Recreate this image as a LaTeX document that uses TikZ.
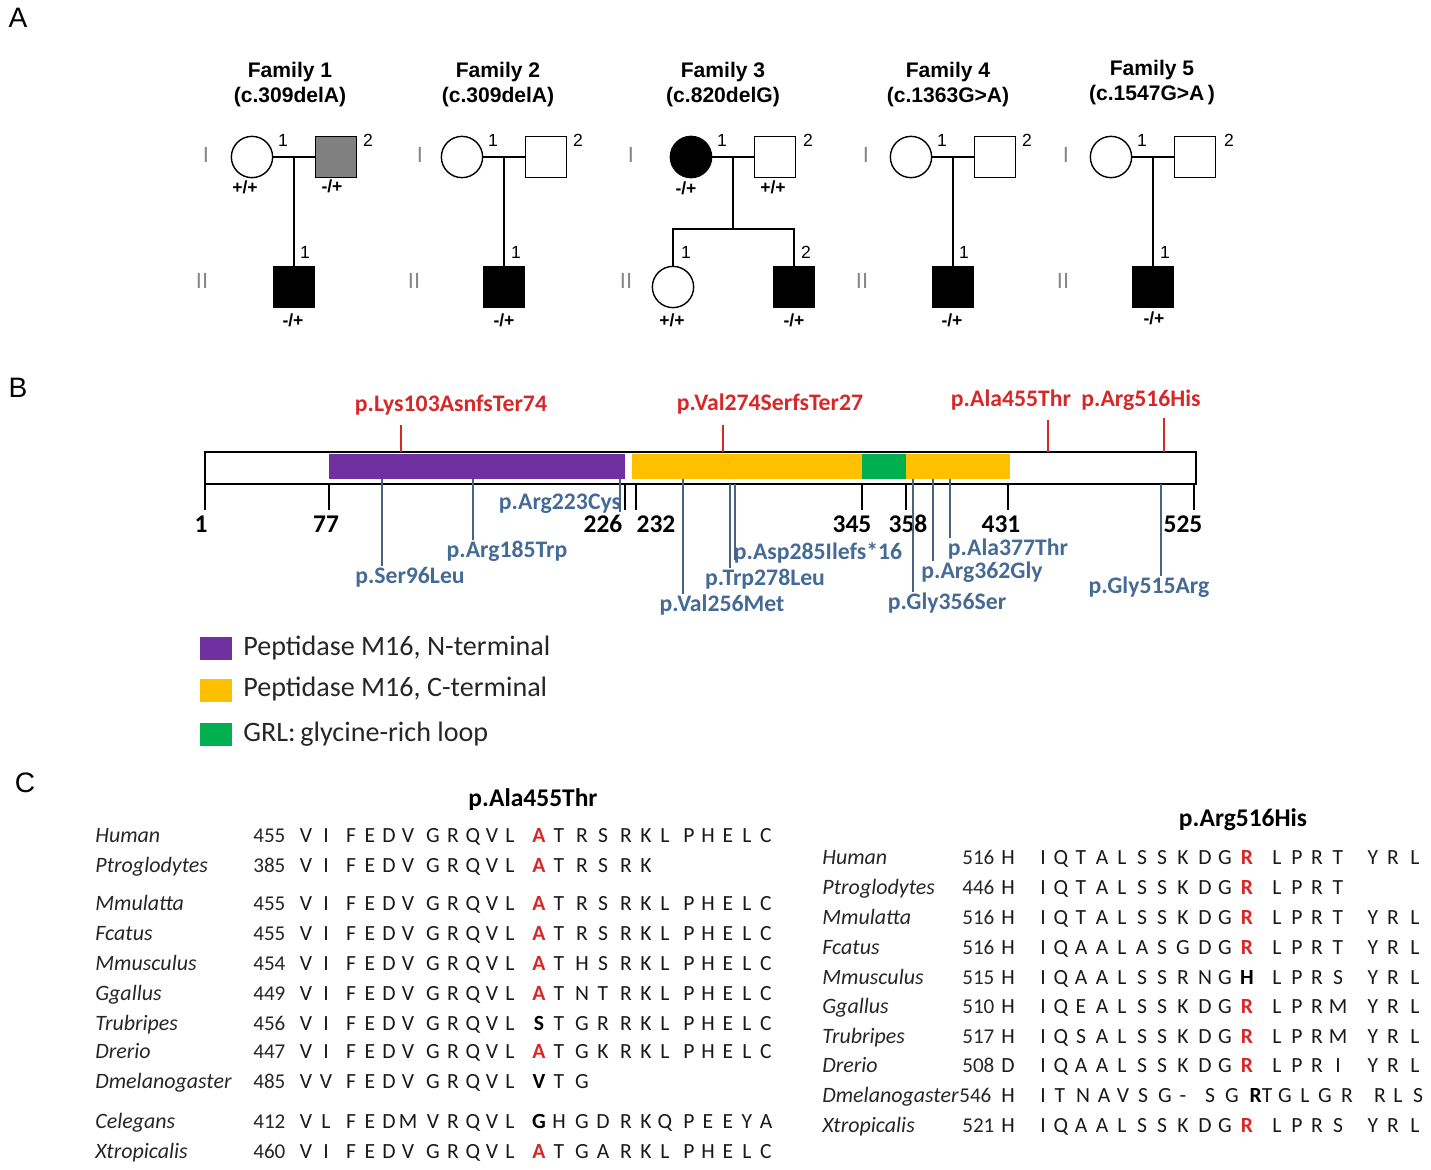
\documentclass[tikz,border=0pt]{standalone}
\usepackage{fontspec}
\setmainfont{Liberation Sans}
\newfontfamily\carl{Carlito}
\usetikzlibrary{calc}

\definecolor{purpM}{RGB}{112,48,160}
\definecolor{orM}{RGB}{255,192,0}
\definecolor{grM}{RGB}{0,176,80}
\definecolor{redM}{RGB}{214,40,40}
\definecolor{bluM}{RGB}{68,106,150}
\definecolor{lineB}{RGB}{70,100,130}
\definecolor{genG}{RGB}{135,135,135}

\newcommand{\mr}[1]{\textcolor{redM}{\bfseries #1}}
\newcommand{\mb}[1]{\textcolor{black}{\bfseries #1}}

% column positions of the alignments
\def\colL{{306,326,351,370,389,408,433,453,473,492,510,539,559,582,603,626,646,665,689,708,728,747,766}}
\def\colR{{1043,1061,1081,1102,1122,1142,1162,1183,1205,1225,1247,1277,1297,1317,1338,1373,1393,1415}}
\def\colD{{1043,1060,1083,1104,1123,1143,1165,1183,1210,1232,1261,1285,1305,1325,1347,1380,1398,1418}}

\newcommand{\seqrow}[4]{%
  \foreach \ch [count=\k from 0] in {#4}{
    \pgfmathsetmacro{\xx}{#1[\k]}
    \node[res] (#2c\k) at (\xx,#3) {\ch};
  }}

\begin{document}
\begin{tikzpicture}[x=0.02cm, y=-0.02cm,
  fem/.style={circle, draw, line width=0.8pt, minimum size=23.5pt, inner sep=0pt},
  mal/.style={rectangle, draw, line width=0.8pt, minimum size=23.5pt, inner sep=0pt},
  ped/.style={line width=0.8pt},
  fam/.style={align=center, font=\bfseries\fontsize{12}{14.2}\selectfont},
  idx/.style={font=\fontsize{10}{12}\selectfont},
  gtp/.style={font=\bfseries\fontsize{10}{12}\selectfont},
  gen/.style={text=genG, font=\fontsize{12.5}{14}\selectfont},
  panel/.style={font=\fontsize{16}{18}\selectfont},
  pinR/.style={redM, line width=0.7pt},
  pinB/.style={lineB, line width=0.7pt},
  labR/.style={text=redM, inner sep=1pt, font=\carl\bfseries\fontsize{13.5}{15}\selectfont},
  labB/.style={text=bluM, inner sep=1pt, font=\carl\bfseries\fontsize{13.5}{15}\selectfont},
  posnum/.style={font=\carl\bfseries\fontsize{14.5}{16}\selectfont},
  leg/.style={anchor=west, inner sep=0pt, text=black!85, font=\carl\fontsize{16}{18}\selectfont},
  spec/.style={anchor=base west, inner sep=0pt, text=black!85, font=\carl\itshape\fontsize{12.5}{14}\selectfont},
  num/.style={anchor=base west, inner sep=0pt, text=black!85, font=\carl\fontsize{12}{14}\selectfont},
  res/.style={anchor=base, inner sep=0pt, text=black!90, font=\carl\fontsize{12.3}{14}\selectfont},
  ttl/.style={font=\carl\bfseries\fontsize{14.5}{16}\selectfont}]

  \useasboundingbox (0,0) rectangle (1431,1170);

  % panel letters
	\node[panel] (pA) at (18,18) {A};
	\node[panel] (pB) at (18,388) {B};
	\node[panel] (pC) at (25,783) {C};

  % family 1
	\node[fam] (t1) at (290,85) {Family 1\\(c.309delA)};
	\node[fem] (f1a) at (252,157) {};
	\node[mal, fill=gray] (f1b) at (336,157) {};
	\coordinate (f1m) at (294,157);
	\node[mal, fill=black] (f1c) at (294,287) {};
	\draw[ped] (f1a) -- (f1b);
	\draw[ped] (f1m) -- (f1c);
	\node[idx] (f1a1) at (283,140) {1};
	\node[idx] (f1b2) at (368,140) {2};
	\node[idx] (f1c1) at (305,252) {1};
	\node[gtp] (f1ag) at (245,187) {+/+};
	\node[gtp] (f1bg) at (332,186) {-/+};
	\node[gtp] (f1cg) at (293,320) {-/+};
	\node[gen] (f1I) at (206,155) {I};
	\node[gen] (f1II) at (202,281) {II};

  % family 2
	\node[fam] (t2) at (498,85) {Family 2\\(c.309delA)};
	\node[fem] (f2a) at (462,157) {};
	\node[mal] (f2b) at (546,157) {};
	\coordinate (f2m) at (504,157);
	\node[mal, fill=black] (f2c) at (504,287) {};
	\draw[ped] (f2a) -- (f2b);
	\draw[ped] (f2m) -- (f2c);
	\node[idx] (f2a1) at (493,140) {1};
	\node[idx] (f2b2) at (578,140) {2};
	\node[idx] (f2c1) at (516,252) {1};
	\node[gtp] (f2cg) at (504,320) {-/+};
	\node[gen] (f2I) at (420,155) {I};
	\node[gen] (f2II) at (414,281) {II};

  % family 3
	\node[fam] (t3) at (723,85) {Family 3\\(c.820delG)};
	\node[fem, fill=black] (f3a) at (691,157) {};
	\node[mal] (f3b) at (775,157) {};
	\coordinate (f3m) at (733,157);
	\coordinate (f3s) at (733,229);
	\node[fem] (f3c) at (673,287) {};
	\node[mal, fill=black] (f3d) at (794,287) {};
	\draw[ped] (f3a) -- (f3b);
	\draw[ped] (f3m) -- (f3s);
	\draw[ped] (f3c) |- (f3s) -| (f3d);
	\node[idx] (f3a1) at (722,140) {1};
	\node[idx] (f3b2) at (808,140) {2};
	\node[idx] (f3c1) at (686,252) {1};
	\node[idx] (f3d2) at (806,252) {2};
	\node[gtp] (f3ag) at (686,188) {-/+};
	\node[gtp] (f3bg) at (773,187) {+/+};
	\node[gtp] (f3cg) at (672,320) {+/+};
	\node[gtp] (f3dg) at (794,320) {-/+};
	\node[gen] (f3I) at (631,155) {I};
	\node[gen] (f3II) at (626,281) {II};

  % family 4
	\node[fam] (t4) at (948,85) {Family 4\\(c.1363G>A)};
	\node[fem] (f4a) at (911,157) {};
	\node[mal] (f4b) at (995,157) {};
	\coordinate (f4m) at (953,157);
	\node[mal, fill=black] (f4c) at (953,287) {};
	\draw[ped] (f4a) -- (f4b);
	\draw[ped] (f4m) -- (f4c);
	\node[idx] (f4a1) at (942,140) {1};
	\node[idx] (f4b2) at (1027,140) {2};
	\node[idx] (f4c1) at (964,252) {1};
	\node[gtp] (f4cg) at (952,320) {-/+};
	\node[gen] (f4I) at (866,155) {I};
	\node[gen] (f4II) at (862,281) {II};

  % family 5
	\node[fam] (t5) at (1152,83) {Family 5\\(c.1547G>A\,)};
	\node[fem] (f5a) at (1111,157) {};
	\node[mal] (f5b) at (1195,157) {};
	\coordinate (f5m) at (1153,157);
	\node[mal, fill=black] (f5c) at (1153,287) {};
	\draw[ped] (f5a) -- (f5b);
	\draw[ped] (f5m) -- (f5c);
	\node[idx] (f5a1) at (1142,140) {1};
	\node[idx] (f5b2) at (1229,140) {2};
	\node[idx] (f5c1) at (1165,252) {1};
	\node[gtp] (f5cg) at (1154,318) {-/+};
	\node[gen] (f5I) at (1066,155) {I};
	\node[gen] (f5II) at (1063,281) {II};

  % protein with domains
	\draw[line width=0.9pt] (205,452) rectangle (1196,484);
	\fill[purpM] (329,454) rectangle (625,479);
	\fill[orM] (632,454) rectangle (1010,479);
	\fill[grM] (862,454) rectangle (906,479);
	\foreach \x/\lx/\n in {205/201/1, 329/326/77, 625/603/226, 636/656/232, 862/852/345, 906/908/358, 1008/1001/431, 1194/1183/525}{
		\draw[line width=0.9pt] (\x,484) -- (\x,510);
		\node[posnum] (aa\n) at (\lx,524) {\n};
	}

  % variants of this study
	\node[labR] (v103) at (451,405) {p.Lys103AsnfsTer74};
	\draw[pinR] (401,452) -- (401,425);
	\node[labR] (v274) at (770,404) {p.Val274SerfsTer27};
	\draw[pinR] (723,452) -- (723,425);
	\node[labR] (v455) at (1011,400) {p.Ala455Thr};
	\draw[pinR] (1048,452) -- (1048,420);
	\node[labR] (v516) at (1141,400) {p.Arg516His};
	\draw[pinR] (1164,452) -- (1164,418);

  % reported variants
	\node[labB] (v96) at (410,577) {p.Ser96Leu};
	\draw[pinB] (382,479) -- (382,566);
	\node[labB] (v185) at (507,551) {p.Arg185Trp};
	\draw[pinB] (473,479) -- (473,540);
	\node[labB] (v223) at (560,504) {p.Arg223Cys};
	\draw[pinB] (620,479) -- (620,512);
	\node[labB] (v256) at (722,605) {p.Val256Met};
	\draw[pinB] (683,479) -- (683,594);
	\node[labB] (v278) at (765,579) {p.Trp278Leu};
	\draw[pinB] (730,484) -- (730,568);
	\node[labB] (v285) at (818,553) {p.Asp285Ilefs*16};
	\draw[pinB] (735,484) -- (735,560);
	\node[labB] (v356) at (947,603) {p.Gly356Ser};
	\draw[pinB] (913,479) -- (913,592);
	\node[labB] (v362) at (982,572) {p.Arg362Gly};
	\draw[pinB] (933,479) -- (933,561);
	\node[labB] (v377) at (1008,549) {p.Ala377Thr};
	\draw[pinB] (950,479) -- (950,538);
	\node[labB] (v515) at (1149,587) {p.Gly515Arg};
	\draw[pinB] (1161,484) -- (1161,576);

  % legend
	\fill[purpM] (200,637) rectangle (232,660);
	\node[leg] (lg1) at (243,648) {Peptidase M16, N-terminal};
	\fill[orM] (200,679) rectangle (232,702);
	\node[leg] (lg2) at (243,689) {Peptidase M16, C-terminal};
	\fill[grM] (200,723) rectangle (232,746);
	\node[leg] (lg3) at (243,734) {GRL:\,glycine-rich loop};

  % alignment p.Ala455Thr
	\node[ttl] (tA) at (533,800) {p.Ala455Thr};
	\node[spec] (lhu) at (95,842) {Human};
	\node[num] (lhun) at (253,842) {455};
	\seqrow{\colL}{lhu}{842}{V,I,F,E,D,V,G,R,Q,V,L,\mr{A},T,R,S,R,K,L,P,H,E,L,C}
	\node[spec] (lpt) at (95,872) {Ptroglodytes};
	\node[num] (lptn) at (253,872) {385};
	\seqrow{\colL}{lpt}{872}{V,I,F,E,D,V,G,R,Q,V,L,\mr{A},T,R,S,R,K}
	\node[spec] (lmm) at (95,910) {Mmulatta};
	\node[num] (lmmn) at (253,910) {455};
	\seqrow{\colL}{lmm}{910}{V,I,F,E,D,V,G,R,Q,V,L,\mr{A},T,R,S,R,K,L,P,H,E,L,C}
	\node[spec] (lfc) at (95,940) {Fcatus};
	\node[num] (lfcn) at (253,940) {455};
	\seqrow{\colL}{lfc}{940}{V,I,F,E,D,V,G,R,Q,V,L,\mr{A},T,R,S,R,K,L,P,H,E,L,C}
	\node[spec] (lmu) at (95,970) {Mmusculus};
	\node[num] (lmun) at (253,970) {454};
	\seqrow{\colL}{lmu}{970}{V,I,F,E,D,V,G,R,Q,V,L,\mr{A},T,H,S,R,K,L,P,H,E,L,C}
	\node[spec] (lgg) at (95,1000) {Ggallus};
	\node[num] (lggn) at (253,1000) {449};
	\seqrow{\colL}{lgg}{1000}{V,I,F,E,D,V,G,R,Q,V,L,\mr{A},T,N,T,R,K,L,P,H,E,L,C}
	\node[spec] (ltr) at (95,1030) {Trubripes};
	\node[num] (ltrn) at (253,1030) {456};
	\seqrow{\colL}{ltr}{1030}{V,I,F,E,D,V,G,R,Q,V,L,\mb{S},T,G,R,R,K,L,P,H,E,L,C}
	\node[spec] (ldr) at (95,1058) {Drerio};
	\node[num] (ldrn) at (253,1058) {447};
	\seqrow{\colL}{ldr}{1058}{V,I,F,E,D,V,G,R,Q,V,L,\mr{A},T,G,K,R,K,L,P,H,E,L,C}
	\node[spec] (ldm) at (95,1088) {Dmelanogaster};
	\node[num] (ldmn) at (253,1088) {485};
	\seqrow{\colL}{ldm}{1088}{V,V,F,E,D,V,G,R,Q,V,L,\mb{V},T,G}
	\node[spec] (lce) at (95,1128) {Celegans};
	\node[num] (lcen) at (253,1128) {412};
	\seqrow{\colL}{lce}{1128}{V,L,F,E,D,M,V,R,Q,V,L,\mb{G},H,G,D,R,K,Q,P,E,E,Y,A}
	\node[spec] (lxt) at (95,1158) {Xtropicalis};
	\node[num] (lxtn) at (253,1158) {460};
	\seqrow{\colL}{lxt}{1158}{V,I,F,E,D,V,G,R,Q,V,L,\mr{A},T,G,A,R,K,L,P,H,E,L,C}

  % alignment p.Arg516His
	\node[ttl] (tB) at (1243,820) {p.Arg516His};
	\node[spec] (rhu) at (822,864) {Human};
	\node[num] (rhun) at (962,864) {516};
	\node[res] (rhuh) at (1008,864) {H};
	\seqrow{\colR}{rhu}{864}{I,Q,T,A,L,S,S,K,D,G,\mr{R},L,P,R,T,Y,R,L}
	\node[spec] (rpt) at (822,894) {Ptroglodytes};
	\node[num] (rptn) at (962,894) {446};
	\node[res] (rpth) at (1008,894) {H};
	\seqrow{\colR}{rpt}{894}{I,Q,T,A,L,S,S,K,D,G,\mr{R},L,P,R,T}
	\node[spec] (rmm) at (822,924) {Mmulatta};
	\node[num] (rmmn) at (962,924) {516};
	\node[res] (rmmh) at (1008,924) {H};
	\seqrow{\colR}{rmm}{924}{I,Q,T,A,L,S,S,K,D,G,\mr{R},L,P,R,T,Y,R,L}
	\node[spec] (rfc) at (822,954) {Fcatus};
	\node[num] (rfcn) at (962,954) {516};
	\node[res] (rfch) at (1008,954) {H};
	\seqrow{\colR}{rfc}{954}{I,Q,A,A,L,A,S,G,D,G,\mr{R},L,P,R,T,Y,R,L}
	\node[spec] (rmu) at (822,984) {Mmusculus};
	\node[num] (rmun) at (962,984) {515};
	\node[res] (rmuh) at (1008,984) {H};
	\seqrow{\colR}{rmu}{984}{I,Q,A,A,L,S,S,R,N,G,\mb{H},L,P,R,S,Y,R,L}
	\node[spec] (rgg) at (822,1013) {Ggallus};
	\node[num] (rggn) at (962,1013) {510};
	\node[res] (rggh) at (1008,1013) {H};
	\seqrow{\colR}{rgg}{1013}{I,Q,E,A,L,S,S,K,D,G,\mr{R},L,P,R,M,Y,R,L}
	\node[spec] (rtr) at (822,1043) {Trubripes};
	\node[num] (rtrn) at (962,1043) {517};
	\node[res] (rtrh) at (1008,1043) {H};
	\seqrow{\colR}{rtr}{1043}{I,Q,S,A,L,S,S,K,D,G,\mr{R},L,P,R,M,Y,R,L}
	\node[spec] (rdr) at (822,1072) {Drerio};
	\node[num] (rdrn) at (962,1072) {508};
	\node[res] (rdrh) at (1008,1072) {D};
	\seqrow{\colR}{rdr}{1072}{I,Q,A,A,L,S,S,K,D,G,\mr{R},L,P,R,I,Y,R,L}
	\node[spec] (rdm) at (822,1102) {Dmelanogaster};
	\node[num] (rdmn) at (959,1102) {546};
	\node[res] (rdmh) at (1008,1102) {H};
	\seqrow{\colD}{rdm}{1102}{I,T,N,A,V,S,G,-,S,G,\mb{R}T,G,L,G,R,R,L,S}
	\node[spec] (rxt) at (822,1132) {Xtropicalis};
	\node[num] (rxtn) at (962,1132) {521};
	\node[res] (rxth) at (1008,1132) {H};
	\seqrow{\colR}{rxt}{1132}{I,Q,A,A,L,S,S,K,D,G,\mr{R},L,P,R,S,Y,R,L}

\end{tikzpicture}
\end{document}
